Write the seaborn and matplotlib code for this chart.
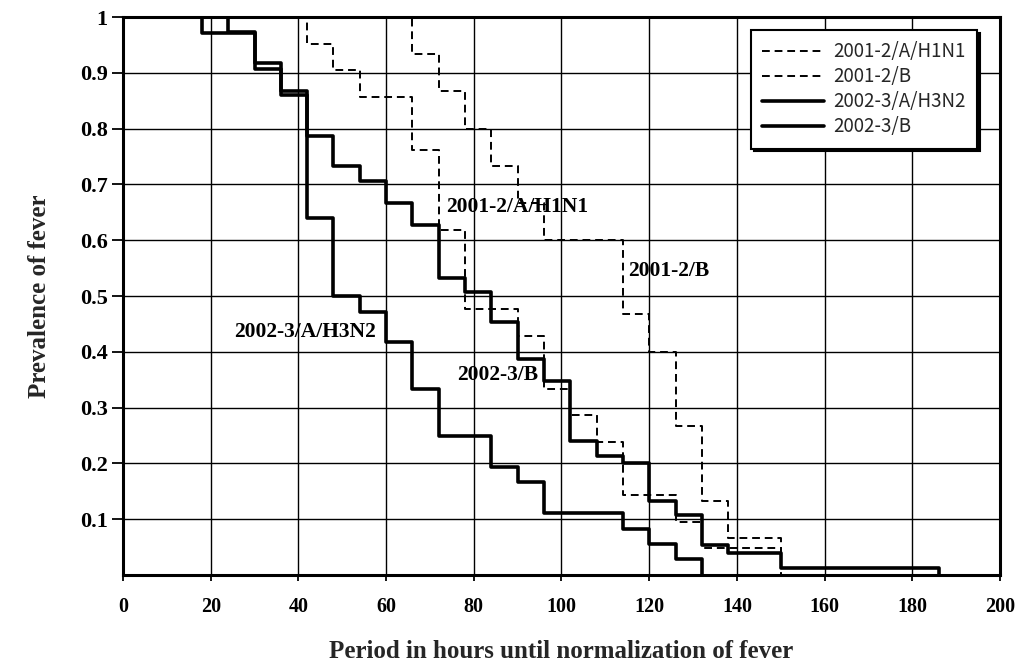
import matplotlib
matplotlib.use('Agg')
import matplotlib.pyplot as plt
import seaborn as sns

# ---- data ----
hours_h1n1_01 = [0, 42, 48, 54, 66, 72, 78, 90, 96, 102, 108, 114, 126, 132, 150]
prev_h1n1_01 = [1.0, 0.952, 0.905, 0.857, 0.762, 0.619, 0.476, 0.429, 0.333, 0.286,
                0.238, 0.143, 0.095, 0.048, 0.0]

hours_b_01 = [0, 66, 72, 78, 84, 90, 96, 114, 120, 126, 132, 138, 150]
prev_b_01 = [1.0, 0.933, 0.867, 0.800, 0.733, 0.667, 0.600, 0.467, 0.400, 0.267,
             0.133, 0.067, 0.0]

hours_h3n2_02 = [0, 18, 30, 36, 42, 48, 54, 60, 66, 72, 84, 90, 96, 114, 120, 126, 132]
prev_h3n2_02 = [1.0, 0.972, 0.917, 0.861, 0.639, 0.500, 0.472, 0.417, 0.333, 0.250,
                0.194, 0.167, 0.111, 0.083, 0.056, 0.028, 0.0]

hours_b_02 = [0, 24, 30, 36, 42, 48, 54, 60, 66, 72, 78, 84, 90, 96, 102, 108, 114,
              120, 126, 132, 138, 150, 186]
prev_b_02 = [1.0, 0.973, 0.907, 0.867, 0.787, 0.733, 0.707, 0.667, 0.627, 0.533, 0.507,
             0.453, 0.387, 0.347, 0.240, 0.213, 0.200, 0.133, 0.107, 0.053, 0.040,
             0.013, 0.0]

series_labels = ['2001-2/A/H1N1', '2001-2/B', '2002-3/A/H3N2', '2002-3/B']
x_ticks = [0, 20, 40, 60, 80, 100, 120, 140, 160, 180, 200]
y_ticks = [0.1, 0.2, 0.3, 0.4, 0.5, 0.6, 0.7, 0.8, 0.9, 1.0]
y_tick_labels = ['0.1', '0.2', '0.3', '0.4', '0.5', '0.6', '0.7', '0.8', '0.9', '1']

# ---- style ----
sns.set_style('ticks')
plt.rcParams['font.family'] = ['Liberation Serif', 'DejaVu Serif']

fig = plt.figure(figsize=(10.25, 6.72), dpi=100)
ax = fig.add_axes([0.1200, 0.1443, 0.8556, 0.8304])

dash = (0, (4, 2.5))
series = [
    (hours_h1n1_01, prev_h1n1_01, series_labels[0], dash, 1.4),
    (hours_b_01, prev_b_01, series_labels[1], dash, 1.4),
    (hours_h3n2_02, prev_h3n2_02, series_labels[2], '-', 2.6),
    (hours_b_02, prev_b_02, series_labels[3], '-', 2.6),
]
for xs, ys, lab, ls, lw in series:
    sns.lineplot(x=xs, y=ys, ax=ax, drawstyle='steps-post', color='black',
                 linestyle=ls, lw=lw, estimator=None, sort=False, label=lab,
                 legend=False)

ax.set_xlim(0, 200)
ax.set_ylim(0, 1)
ax.set_xticks(x_ticks)
ax.set_yticks(y_ticks)
ax.set_yticklabels(y_tick_labels)
ax.grid(True, color='black', lw=1.0)
ax.set_axisbelow(True)
ax.tick_params(axis='both', colors='black', direction='out')
ax.tick_params(axis='y', length=8, width=1.3, pad=3, labelsize=16)
ax.tick_params(axis='x', length=4, width=1.3, pad=12, labelsize=14.5)
for t in ax.get_xticklabels() + ax.get_yticklabels():
    t.set_fontweight('bold')
for s in ax.spines.values():
    s.set_linewidth(2.2)
    s.set_color('black')
    s.set_visible(True)

# in-plot labels
txt_kw = dict(ha='center', va='center', fontsize=15.5, fontweight='bold', color='black')
ax.text(41.5, 0.436, '2002-3/A/H3N2', **txt_kw)
ax.text(85.4, 0.358, '2002-3/B', **txt_kw)
ax.text(90.0, 0.660, '2001-2/A/H1N1', **txt_kw)
ax.text(124.5, 0.545, '2001-2/B', **txt_kw)

# axis titles
fig.text(0.547, 1 - 652 / 672, 'Period in hours until normalization of fever',
         ha='center', va='center', fontsize=18, fontweight='bold')
fig.text(40 / 1025, 1 - 296 / 672, 'Prevalence of fever', rotation=90,
         ha='center', va='center', fontsize=18, fontweight='bold')

# legend
leg = ax.legend(handles=list(ax.get_lines()), labels=series_labels,
                loc='upper right', bbox_to_anchor=(0.974, 0.977), borderaxespad=0,
                fancybox=False, framealpha=1, edgecolor='black',
                shadow={'color': 'black', 'alpha': 1},
                prop={'family': ['Noto Sans CJK JP', 'DejaVu Sans'], 'size': 13.5},
                handlelength=3.3, handletextpad=0.5, labelspacing=0.22, borderpad=0.6)
leg.get_frame().set_linewidth(1.5)

fig.savefig('out.png', dpi=100, facecolor='white')
